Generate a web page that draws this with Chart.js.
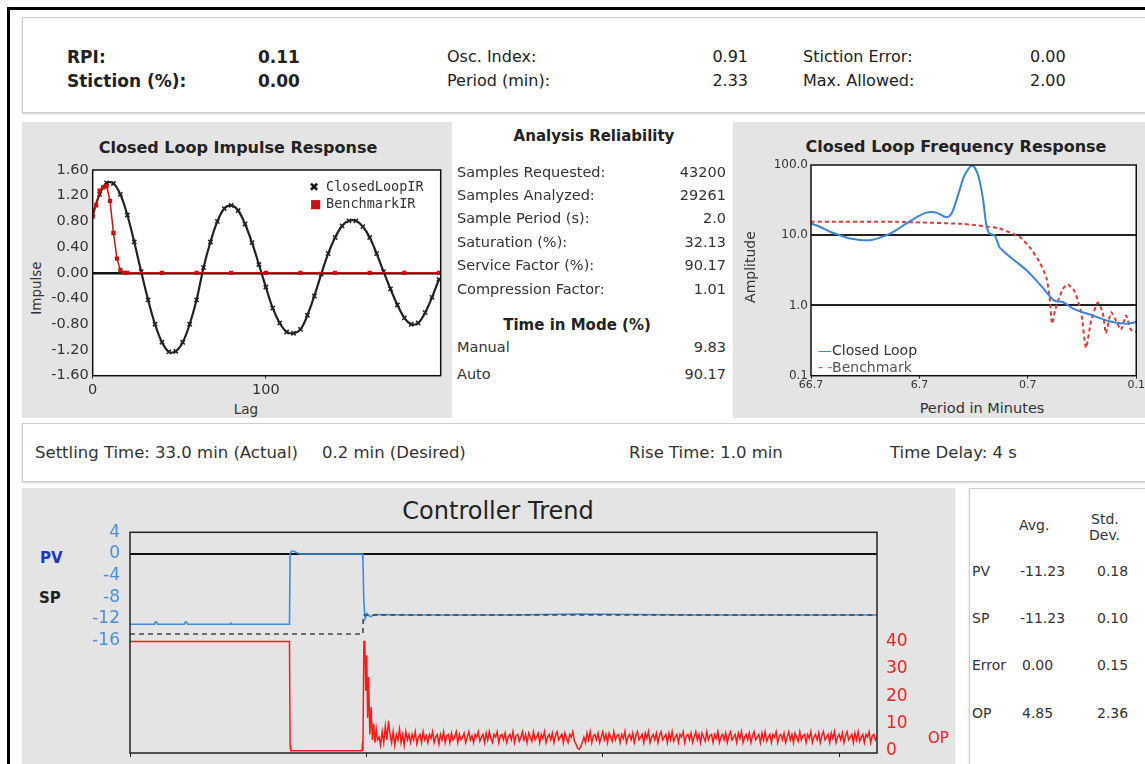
<!DOCTYPE html>
<html><head><meta charset="utf-8">
<script src="https://cdn.jsdelivr.net/npm/chart.js@4.4.1/dist/chart.umd.min.js"></script>
<style>
html,body{margin:0;padding:0;}
body{width:1145px;height:764px;overflow:hidden;position:relative;background:#fff;font-family:"DejaVu Sans",Verdana,sans-serif;color:#222;}
.abs{position:absolute;}
.t{position:absolute;white-space:nowrap;line-height:1;transform:translateY(-50%);}
.c{transform:translate(-50%,-50%);}
.r{transform:translate(-100%,-50%);}
.rot{transform:translate(-50%,-50%) rotate(-90deg);}
.b{font-weight:bold;}
.gray{background:#e4e4e4;}
.box{background:#fff;border:1px solid #cdcdcd;box-shadow:0 1px 2px rgba(0,0,0,0.18);box-sizing:border-box;}
.chart{position:absolute;}
</style></head>
<body>
<!-- outer frame -->
<div class="abs" style="left:7px;top:7px;width:1200px;height:3px;background:#000"></div>
<div class="abs" style="left:7px;top:7px;width:3px;height:800px;background:#000"></div>

<!-- top summary panel -->
<div class="abs box" style="left:22px;top:17px;width:1140px;height:96px"></div>
<div class="t b" style="left:67px;top:57px;font-size:17px">RPI:</div>
<div class="t b" style="left:258px;top:57px;font-size:17px">0.11</div>
<div class="t" style="left:447px;top:57px;font-size:16px">Osc. Index:</div>
<div class="t r" style="left:748px;top:57px;font-size:16px">0.91</div>
<div class="t" style="left:803px;top:57px;font-size:16px">Stiction Error:</div>
<div class="t" style="left:1030px;top:57px;font-size:16px">0.00</div>
<div class="t b" style="left:67px;top:81px;font-size:17px">Stiction (%):</div>
<div class="t b" style="left:258px;top:81px;font-size:17px">0.00</div>
<div class="t" style="left:447px;top:81px;font-size:16px">Period (min):</div>
<div class="t r" style="left:748px;top:81px;font-size:16px">2.33</div>
<div class="t" style="left:803px;top:81px;font-size:16px">Max. Allowed:</div>
<div class="t" style="left:1030px;top:81px;font-size:16px">2.00</div>

<!-- middle panels -->
<div class="abs gray" style="left:22px;top:122px;width:430px;height:296px"></div>
<div class="abs gray" style="left:733px;top:122px;width:420px;height:296px"></div>

<!-- impulse chart texts -->
<div class="t b c" style="left:238px;top:148px;font-size:16px">Closed Loop Impulse Response</div>
<div class="t rot" style="left:37px;top:288px;font-size:13.5px;color:#333">Impulse</div>
<div class="t c" style="left:246px;top:410px;font-size:13.5px;color:#333">Lag</div>
<div class="chart" style="left:22px;top:160px;width:428px;height:258px"><canvas id="irChart"></canvas></div>
<div class="t" style="left:309px;top:187px;font-size:12px;color:#111">✖</div>
<div class="t" style="left:326px;top:187px;font-size:13.5px;font-family:'DejaVu Sans Mono';color:#333">ClosedLoopIR</div>
<div class="t" style="left:310px;top:204px;font-size:12px;color:#cc1111">■</div>
<div class="t" style="left:326px;top:204px;font-size:13.5px;font-family:'DejaVu Sans Mono';color:#333">BenchmarkIR</div>

<!-- analysis reliability -->
<div class="t b c" style="left:594px;top:136px;font-size:15px">Analysis Reliability</div>
<div class="t" style="left:457px;top:172px;font-size:14.5px;color:#333">Samples Requested:</div>
<div class="t r" style="left:726px;top:172px;font-size:14.5px;color:#333">43200</div>
<div class="t" style="left:457px;top:195px;font-size:14.5px;color:#333">Samples Analyzed:</div>
<div class="t r" style="left:726px;top:195px;font-size:14.5px;color:#333">29261</div>
<div class="t" style="left:457px;top:218px;font-size:14.5px;color:#333">Sample Period (s):</div>
<div class="t r" style="left:726px;top:218px;font-size:14.5px;color:#333">2.0</div>
<div class="t" style="left:457px;top:241.5px;font-size:14.5px;color:#333">Saturation (%):</div>
<div class="t r" style="left:726px;top:241.5px;font-size:14.5px;color:#333">32.13</div>
<div class="t" style="left:457px;top:265px;font-size:14.5px;color:#333">Service Factor (%):</div>
<div class="t r" style="left:726px;top:265px;font-size:14.5px;color:#333">90.17</div>
<div class="t" style="left:457px;top:288.5px;font-size:14.5px;color:#333">Compression Factor:</div>
<div class="t r" style="left:726px;top:288.5px;font-size:14.5px;color:#333">1.01</div>
<div class="t b c" style="left:577px;top:325px;font-size:15px">Time in Mode (%)</div>
<div class="t" style="left:457px;top:347px;font-size:14.5px;color:#333">Manual</div>
<div class="t r" style="left:726px;top:347px;font-size:14.5px;color:#333">9.83</div>
<div class="t" style="left:457px;top:374px;font-size:14.5px;color:#333">Auto</div>
<div class="t r" style="left:726px;top:374px;font-size:14.5px;color:#333">90.17</div>

<!-- frequency chart texts -->
<div class="t b c" style="left:956px;top:147px;font-size:16px">Closed Loop Frequency Response</div>
<div class="t rot" style="left:750px;top:267px;font-size:14px;color:#333">Amplitude</div>
<div class="t c" style="left:982px;top:408px;font-size:14.5px;color:#333">Period in Minutes</div>
<div class="chart" style="left:733px;top:155px;width:412px;height:263px"><canvas id="frChart"></canvas></div>
<div class="t" style="left:818px;top:350px;font-size:14px;color:#333"><span style="color:#3d85d8">—</span>Closed Loop</div>
<div class="t" style="left:818px;top:367px;font-size:14px;color:#555"><span style="color:#d55">- -</span>Benchmark</div>

<!-- settling panel -->
<div class="abs box" style="left:22px;top:423px;width:1140px;height:59px"></div>
<div class="t" style="left:35px;top:453px;font-size:16.5px;color:#333">Settling Time: 33.0 min (Actual)</div>
<div class="t" style="left:322px;top:453px;font-size:16.5px;color:#333">0.2 min (Desired)</div>
<div class="t" style="left:629px;top:453px;font-size:16.5px;color:#333">Rise Time: 1.0 min</div>
<div class="t" style="left:890px;top:453px;font-size:16.5px;color:#333">Time Delay: 4 s</div>

<!-- controller trend -->
<div class="abs gray" style="left:22px;top:488px;width:933px;height:290px"></div>
<div class="t c" style="left:498px;top:511px;font-size:24px;color:#222">Controller Trend</div>
<div class="t b" style="left:40px;top:558px;font-size:15px;color:#2233cc">PV</div>
<div class="t b" style="left:39px;top:598px;font-size:15px;color:#222">SP</div>
<div class="t" style="left:928px;top:738px;font-size:15px;color:#ee2222">OP</div>
<div class="chart" style="left:22px;top:522px;width:933px;height:242px"><canvas id="trendChart"></canvas></div>

<!-- stats table -->
<div class="abs box" style="left:969px;top:488px;width:200px;height:290px"></div>
<div class="t" style="left:1019px;top:525px;font-size:14px;color:#333">Avg.</div>
<div class="t" style="left:1091px;top:519px;font-size:14px;color:#333">Std.</div>
<div class="t" style="left:1089px;top:535px;font-size:14px;color:#333">Dev.</div>
<div class="t" style="left:972px;top:571px;font-size:14px;color:#333">PV</div>
<div class="t" style="left:1020px;top:571px;font-size:14px;color:#333">-11.23</div>
<div class="t" style="left:1097px;top:571px;font-size:14px;color:#333">0.18</div>
<div class="t" style="left:972px;top:618px;font-size:14px;color:#333">SP</div>
<div class="t" style="left:1020px;top:618px;font-size:14px;color:#333">-11.23</div>
<div class="t" style="left:1097px;top:618px;font-size:14px;color:#333">0.10</div>
<div class="t" style="left:972px;top:665px;font-size:14px;color:#333">Error</div>
<div class="t" style="left:1022px;top:665px;font-size:14px;color:#333">0.00</div>
<div class="t" style="left:1097px;top:665px;font-size:14px;color:#333">0.15</div>
<div class="t" style="left:972px;top:713px;font-size:14px;color:#333">OP</div>
<div class="t" style="left:1022px;top:713px;font-size:14px;color:#333">4.85</div>
<div class="t" style="left:1097px;top:713px;font-size:14px;color:#333">2.36</div>

<script>
// ---------- Closed loop impulse response ----------
const irLags = [0,4,8,12,16,20,24,28,32,36,40,44,48,52,56,60,64,68,72,76,80,84,88,92,96,100,104,108,112,116,120,124,128,132,136,140,144,148,152,156,160,164,168,172,176,180,184,188,192,196,200];
const closedLoopIR = [0.92,1.22,1.40,1.39,1.22,0.90,0.48,0.02,-0.42,-0.80,-1.08,-1.23,-1.22,-1.08,-0.80,-0.42,0.08,0.48,0.80,1.00,1.05,0.97,0.76,0.47,0.13,-0.22,-0.55,-0.78,-0.92,-0.94,-0.88,-0.66,-0.36,-0.02,0.30,0.55,0.73,0.81,0.81,0.72,0.55,0.30,0.02,-0.25,-0.50,-0.70,-0.80,-0.78,-0.62,-0.38,-0.10];
const benchLags = [0,2,4,6,8,10,12,14,16,18,20,40,60,80,100,120,140,160,180,200];
const benchmarkIR = [0.88,1.05,1.28,1.33,1.35,1.12,0.62,0.22,0.04,0,0,0,0,0,0,0,0,0,0,0];
const irYTicks = [1.6,1.2,0.8,0.4,0,-0.4,-0.8,-1.2,-1.6];
const irYTickLabels = ['1.60','1.20','0.80','0.40','0.00','-0.40','-0.80','-1.20','-1.60'];
const irXTicks = [0,100];
const irXTickLabels = ['0','100'];

// ---------- Closed loop frequency response ----------
const clPeriod = [66.7,55.2,44.6,36.1,29.2,19.1,13.4,10.9,8.8,7.1,5.75,4.66,3.77,3.39,2.94,2.55,2.17,1.92,1.73,1.61,1.50,1.35,1.22,1.06,0.855,0.69,0.56,0.45,0.38,0.318,0.257,0.208,0.168,0.136,0.110,0.083,0.0667];
const clAmp = [14.7,13.2,11.2,10.0,9.0,8.5,10.0,11.8,14.7,18.0,21.0,21.0,18.0,20.0,37.0,72.0,98.0,72.0,33.0,14.0,10.5,10.0,6.8,5.5,4.2,3.2,2.3,1.55,1.17,1.12,0.91,0.80,0.72,0.64,0.58,0.55,0.58];
const bmPeriod = [66.7,10.9,2.64,1.73,1.22,0.986,0.796,0.644,0.522,0.45,0.42,0.399,0.371,0.318,0.286,0.248,0.215,0.194,0.174,0.151,0.136,0.127,0.114,0.102,0.0923,0.083,0.0747,0.0667];
const bmAmp = [15.5,15.5,14.5,13.5,12.5,11.0,9.5,6.8,4.2,2.5,1.3,0.55,0.9,1.7,2.0,1.6,0.8,0.25,0.6,1.1,0.8,0.4,0.8,0.6,0.45,0.72,0.45,0.42];
const frYTicks = [100,10,1,0.1];
const frYTickLabels = ['100.0','10.0','1.0','0.1'];
const frXTicks = [66.7,6.67,0.667,0.0667];
const frXTickLabels = ['66.7','6.7','0.7','0.1'];

// ---------- Controller trend (time in hours) ----------
const pvTime = [0,0.78,0.80,0.84,0.88,1.72,1.75,1.79,1.83,3.18,3.20,3.24,5.06,5.08,5.12,5.20,5.30,5.40,7.37,7.39,7.42,7.46,7.52,7.62,7.80,9.0,12.0,14.2,18.0,23.7];
const pvValues = [-13.0,-13.0,-12.6,-12.6,-13.0,-13.0,-12.6,-12.6,-13.0,-13.0,-12.8,-13.0,-13.0,0.0,0.5,0.5,0.2,0.0,0.0,-1.0,-9.0,-12.0,-11.0,-11.6,-11.2,-11.3,-11.3,-11.1,-11.3,-11.3];
const spTime = [0,7.39,7.40,23.7];
const spValues = [-14.8,-14.8,-11.3,-11.3];
const opTransientTime = [0,5.06,5.08,5.10,7.36,7.37,7.39,7.42,7.45,7.48,7.51,7.54,7.57,7.61,7.65,7.69,7.73,7.77,7.81,7.85];
const opTransient = [40,40,2,0,0,1.5,0,40,40,22,35,12,27,6,16,4,10,3,8,4];
const opNoiseStart = 7.9, opNoiseStep = 0.05;
const opNoise = [
 5,2,7,3,9,4,11,6,3,7,2,6,4,8,3,6,2,7,4,6,
 3,6,4,7,2.5,5,6,3,7,4,5.5,3,6,4.5,7,3,5,6,2.5,6,
 4,7,3,5.5,6,3,6.5,4,5,7,3,6,4,5,6.5,3,5,7,4,5.5,
 3,6,5,7,3.5,5,6,3,6.5,4,7,4.5,3,6,5,7,3,5.5,6,4,
 6.5,3,5,6,4,7,3,5.5,6,3.5,5,7,4,6,3,6.5,5,3.5,7,4,
 5,6.5,3,6,4.5,7,3,5,6,4,6.5,3,5.5,7,4,5,6,3,6.5,4.5,
 3,6,5,7,3.5,2.5,1,0.5,1.5,3,5,3,6.5,4,7,3,5.5,6,4,6.5,
 3,5,7,4,6,3,6.5,5,3.5,7,4,5.5,6,3,6,4.5,7,3,5,6,
 4,6.5,3,5.5,7,4,5,6,3,6.5,4.5,7,3,5,6,4,6.5,3,5.5,7,
 4,5,6,3,6.5,4,7,3.5,5,6,3,6,5,7,3,5.5,6,4,6.5,3,
 5,7,4,6,3,6.5,5,3.5,7,4,5.5,6,3,6,4.5,7,3,5,6,4,
 6.5,3,5.5,7,4,5,6,3,6.5,4.5,7,3,5,6,4,6.5,3,5.5,7,4,
 5,6,3,6.5,4,7,3.5,5,6,3,6,5,7,3,5.5,6,4,6.5,3,5,
 7,4,6,3,6.5,5,3.5,7,4,5.5,6,3,6,4.5,7,3,5,6,4,6.5,
 3,5.5,7,4,5,6,3,6.5,4.5,7,3,5,6,4,6.5,3,5.5,7,4,5,
 6,3,6.5,4,7,3.5,5,6,3,6,5,7,3,5.5,6,4,5];
const pvTicks = [4,0,-4,-8,-12,-16];
const opTicks = [0,10,20,30,40];
const trendXTicks = [0,7.5,15,22.5];

// ---------- helpers ----------
const pts = (xs, ys) => xs.map((x,i)=>({x:x, y:ys[i]}));
const CLEAR = 'rgba(0,0,0,0)';
const framePlugin = {
  id:'frame',
  afterDatasetsDraw(chart, args, opts){
    const a = chart.chartArea, ctx = chart.ctx;
    ctx.save(); ctx.strokeStyle = opts.color || '#000'; ctx.lineWidth = opts.width || 1.5;
    ctx.strokeRect(a.left,a.top,a.right-a.left,a.bottom-a.top); ctx.restore();
  }
};
const bgPlugin = {
  id:'plotbg',
  beforeDraw(chart, args, opts){
    if(!opts.color) return;
    const a = chart.chartArea, ctx = chart.ctx;
    ctx.save(); ctx.fillStyle = opts.color; ctx.fillRect(a.left,a.top,a.right-a.left,a.bottom-a.top); ctx.restore();
  }
};
Chart.register(framePlugin, bgPlugin);
Chart.defaults.font.family = "'DejaVu Sans', Verdana, sans-serif";
Chart.defaults.animation = false;

// Impulse chart
new Chart(document.getElementById('irChart'), {
  type:'line',
  data:{datasets:[
    {label:'BenchmarkIR', data:pts(benchLags, benchmarkIR), borderColor:'#cc1111', backgroundColor:'#cc1111', borderWidth:1.5, pointStyle:'rect', pointRadius:2, tension:0},
    {label:'ClosedLoopIR', data:pts(irLags, closedLoopIR), borderColor:'#222', backgroundColor:'#222', borderWidth:2.2, pointStyle:'crossRot', pointRadius:3, pointBorderWidth:1.5, tension:0.35}
  ]},
  options:{
    responsive:true, maintainAspectRatio:false,
    layout:{padding:{left:0,right:9.3,top:10,bottom:0}},
    plugins:{legend:{display:false}, tooltip:{enabled:false}, frame:{color:'#111', width:1.5}, plotbg:{color:'#ffffff'}},
    scales:{
      x:{type:'linear', min:0, max:201,
         afterBuildTicks:s=>{s.ticks = irXTicks.map(v=>({value:v}));},
         ticks:{callback:(v,i)=>irXTickLabels[i], color:'#333', font:{size:14.5}, padding:3, maxRotation:0},
         grid:{drawOnChartArea:false, drawTicks:true, tickLength:3, color:'#333'},
         border:{display:false},
         afterFit:s=>{s.height = 42.3;}},
      y:{type:'linear', min:-1.6, max:1.6,
         afterBuildTicks:s=>{s.ticks = irYTicks.map(v=>({value:v}));},
         ticks:{callback:(v,i)=>irYTickLabels[i], color:'#333', font:{size:14.5}, padding:0},
         grid:{drawTicks:true, tickLength:4, tickColor:CLEAR, color:c=>(c.tick && c.tick.value===0)?'#111':CLEAR, lineWidth:2.5},
         border:{display:false},
         afterFit:s=>{s.width = 70.7;}}
    }
  }
});

// Frequency chart
new Chart(document.getElementById('frChart'), {
  type:'line',
  data:{datasets:[
    {label:'Closed Loop', data:pts(clPeriod, clAmp), borderColor:'#3d85d8', borderWidth:2, pointRadius:0, tension:0.3},
    {label:'Benchmark', data:pts(bmPeriod, bmAmp), borderColor:'#e03a3a', borderWidth:2, borderDash:[4,3], pointRadius:0, tension:0.2}
  ]},
  options:{
    responsive:true, maintainAspectRatio:false,
    layout:{padding:{left:0,right:8,top:10,bottom:0}},
    plugins:{legend:{display:false}, tooltip:{enabled:false}, frame:{color:'#111', width:1.5}, plotbg:{color:'#ffffff'}},
    scales:{
      x:{type:'logarithmic', reverse:true, min:0.0667, max:66.7,
         afterBuildTicks:s=>{s.ticks = frXTicks.map(v=>({value:v}));},
         ticks:{callback:(v,i)=>frXTickLabels[i], color:'#333', font:{size:11}, padding:0, maxRotation:0, autoSkip:false},
         grid:{drawOnChartArea:false, drawTicks:true, tickLength:3, color:'#222'},
         border:{display:false},
         afterFit:s=>{s.height = 42.3;}},
      y:{type:'logarithmic', min:0.1, max:100,
         afterBuildTicks:s=>{s.ticks = frYTicks.map(v=>({value:v}));},
         ticks:{callback:(v,i)=>frYTickLabels[i], color:'#333', font:{size:12}, padding:0, autoSkip:false},
         grid:{drawTicks:true, tickLength:3, tickColor:CLEAR, color:c=>(c.tick && (c.tick.value===10 || c.tick.value===1))?'#222':CLEAR, lineWidth:2},
         border:{display:false},
         afterFit:s=>{s.width = 78;}}
    }
  }
});

// Controller trend chart
const opTime = opTransientTime.concat(opNoise.map((v,i)=>+(opNoiseStart + i*opNoiseStep).toFixed(2)));
const opValues = opTransient.concat(opNoise);
new Chart(document.getElementById('trendChart'), {
  type:'line',
  data:{datasets:[
    {label:'SP', data:pts(spTime, spValues), yAxisID:'yPV', borderColor:'#444', borderWidth:1.6, borderDash:[5,4], pointRadius:0, tension:0},
    {label:'PV', data:pts(pvTime, pvValues), yAxisID:'yPV', borderColor:'#3b8de0', borderWidth:1.6, pointRadius:0, tension:0},
    {label:'OP', data:pts(opTime, opValues), yAxisID:'yOP', borderColor:'#ff1a1a', borderWidth:1.5, pointRadius:0, tension:0}
  ]},
  options:{
    responsive:true, maintainAspectRatio:false,
    layout:{padding:{left:0,right:0,top:10.3,bottom:0}},
    plugins:{legend:{display:false}, tooltip:{enabled:false}, frame:{color:'#222', width:1.5}},
    scales:{
      x:{type:'linear', min:0, max:23.7,
         afterBuildTicks:s=>{s.ticks = trendXTicks.map(v=>({value:v}));},
         ticks:{callback:()=>'', maxRotation:0},
         grid:{drawOnChartArea:false, drawTicks:true, tickLength:4, color:'#222'},
         border:{display:false},
         afterFit:s=>{s.height = 11;}},
      yPV:{type:'linear', position:'left', min:-36.8, max:4,
         afterBuildTicks:s=>{s.ticks = pvTicks.map(v=>({value:v}));},
         ticks:{color:'#4a8fdc', font:{size:17}, padding:0},
         grid:{drawTicks:true, tickLength:10, tickColor:CLEAR, color:c=>(c.tick && c.tick.value===0)?'#111':CLEAR, lineWidth:2},
         border:{display:false},
         afterFit:s=>{s.width = 108;}},
      yOP:{type:'linear', position:'right', min:-0.8, max:80,
         afterBuildTicks:s=>{s.ticks = opTicks.map(v=>({value:v}));},
         ticks:{color:'#ee2222', font:{size:17}, padding:0},
         grid:{drawOnChartArea:false, drawTicks:true, tickLength:9, tickColor:CLEAR, color:CLEAR},
         border:{display:false},
         afterFit:s=>{s.width = 78;}}
    }
  }
});
</script>
</body></html>
